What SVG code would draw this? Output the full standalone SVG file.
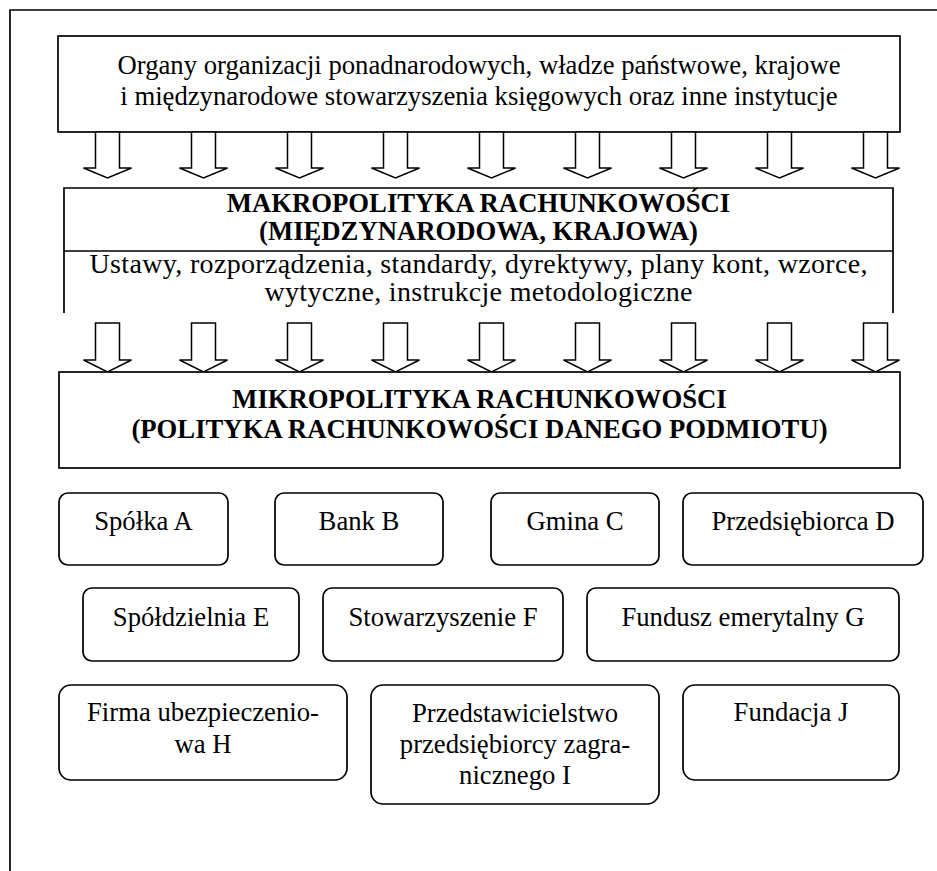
<svg xmlns="http://www.w3.org/2000/svg" width="937" height="871" viewBox="0 0 937 871">
<style>
text{font-family:"Liberation Serif","Times New Roman",serif;font-size:26.7px;fill:#000;text-anchor:middle}
.b{font-weight:bold}
.big{font-size:28px}
.box{fill:#fff;stroke:#000;stroke-width:1.7}
.ln{fill:none;stroke:#000;stroke-width:1.7}
.arr{fill:#fff;stroke:#000;stroke-width:1.5;stroke-linejoin:miter}
</style>
<defs>
<polygon id="a1" class="arr" points="-12,132 12,132 12,168 24,168 0,178 -24,168 -12,168"/>
<polygon id="a2" class="arr" points="-12,323 12,323 12,360 24,360 0,372 -24,360 -12,360"/>
</defs>
<rect width="937" height="871" fill="#fff"/>
<path class="ln" d="M10,871 V10 H937" stroke-width="2"/>
<g id="top">
<rect class="box" x="58" y="36" width="842" height="96"/>
<text x="479" y="74">Organy organizacji ponadnarodowych, władze państwowe, krajowe</text>
<text x="479" y="105">i międzynarodowe stowarzyszenia księgowych oraz inne instytucje</text>
</g>
<g id="connectors">
<use href="#a1" x="107.5"/><use href="#a1" x="203.5"/><use href="#a1" x="299.5"/>
<use href="#a1" x="395.5"/><use href="#a1" x="491.5"/><use href="#a1" x="587.5"/>
<use href="#a1" x="683.5"/><use href="#a1" x="779.5"/><use href="#a1" x="875.5"/>
<use href="#a2" x="107.5"/><use href="#a2" x="203.5"/><use href="#a2" x="299.5"/>
<use href="#a2" x="395.5"/><use href="#a2" x="491.5"/><use href="#a2" x="587.5"/>
<use href="#a2" x="683.5"/><use href="#a2" x="779.5"/><use href="#a2" x="875.5"/>
</g>
<g id="makro">
<path class="ln" d="M64,313 V188 H893 V313 M64,251 H893"/>
<text class="b" x="478.5" y="212">MAKROPOLITYKA RACHUNKOWOŚCI</text>
<text class="b" x="478.5" y="240">(MIĘDZYNARODOWA, KRAJOWA)</text>
<text class="big" x="478.5" y="273" textLength="778">Ustawy, rozporządzenia, standardy, dyrektywy, plany kont, wzorce,</text>
<text class="big" x="478.5" y="301" textLength="428">wytyczne, instrukcje metodologiczne</text>
</g>
<g id="mikro">
<rect class="box" x="59" y="372" width="841" height="96"/>
<text class="b" x="479.5" y="408">MIKROPOLITYKA RACHUNKOWOŚCI</text>
<text class="b" x="479.5" y="438">(POLITYKA RACHUNKOWOŚCI DANEGO PODMIOTU)</text>
</g>
<g id="spolka-a"><rect class="box" x="59" y="493" width="169" height="72" rx="9"/><text x="143.5" y="530">Spółka A</text></g>
<g id="bank-b"><rect class="box" x="275" y="493" width="168" height="72" rx="9"/><text x="359" y="530">Bank B</text></g>
<g id="gmina-c"><rect class="box" x="491" y="493" width="168" height="72" rx="9"/><text x="575" y="530">Gmina C</text></g>
<g id="przedsiebiorca-d"><rect class="box" x="683" y="493" width="240" height="72" rx="9"/><text x="803" y="530">Przedsiębiorca D</text></g>
<g id="spoldzielnia-e"><rect class="box" x="83" y="588" width="216" height="73" rx="9"/><text x="191" y="626">Spółdzielnia E</text></g>
<g id="stowarzyszenie-f"><rect class="box" x="323" y="588" width="240" height="73" rx="9"/><text x="443" y="626">Stowarzyszenie F</text></g>
<g id="fundusz-g"><rect class="box" x="587" y="588" width="312" height="73" rx="9"/><text x="743" y="626">Fundusz emerytalny G</text></g>
<g id="firma-h"><rect class="box" x="59" y="685" width="288" height="95" rx="12"/><text x="203" y="721">Firma ubezpieczenio-</text><text x="203" y="753">wa H</text></g>
<g id="przedstawicielstwo-i"><rect class="box" x="371" y="685" width="288" height="119" rx="12"/><text x="515" y="722">Przedstawicielstwo</text><text x="515" y="753">przedsiębiorcy zagra-</text><text x="515" y="784">nicznego I</text></g>
<g id="fundacja-j"><rect class="box" x="683" y="685" width="216" height="95" rx="12"/><text x="791" y="721">Fundacja J</text></g>
</svg>
